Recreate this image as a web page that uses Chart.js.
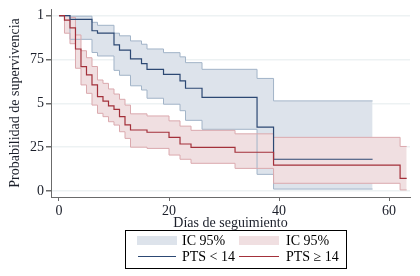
<!DOCTYPE html>
<html>
<head>
<meta charset="utf-8">
<script src="https://cdn.jsdelivr.net/npm/chart.js@4"></script>
<style>
  html, body { margin: 0; padding: 0; background: #fff; }
  #wrap { width: 420px; height: 276px; position: relative; }
</style>
</head>
<body>
<div id="wrap"><canvas id="km"></canvas></div>
<script>
// axis ticks
const xTicks = [0, 20, 40, 60]
const yTicks = [0, 0.25, 0.5, 0.75, 1]
const yTickLabels = ['0', '25', '5', '75', '1']

// PTS < 14 (blue)
const lowDays  = [0, 2, 6, 7, 10, 11, 13, 15, 16, 19, 22, 23, 26, 36, 39, 57]
const lowSurv  = [1, 0.979, 0.914, 0.90, 0.833, 0.804, 0.753, 0.726, 0.694, 0.665, 0.628, 0.586, 0.534, 0.364, 0.181, 0.181]
const lowUpper = [1, 0.997, 0.962, 0.945, 0.90, 0.885, 0.856, 0.837, 0.81, 0.789, 0.765, 0.732, 0.694, 0.642, 0.514, 0.514]
const lowLower = [1, 0.865, 0.79, 0.77, 0.688, 0.66, 0.60, 0.576, 0.529, 0.495, 0.458, 0.403, 0.352, 0.095, 0.011, 0.011]

// PTS >= 14 (red)
const highDays  = [0, 1, 2, 3, 4, 5, 6, 7, 8, 9, 10, 11, 12, 13, 16, 20, 22, 24, 32, 39, 62, 63.2]
const highSurv  = [1, 0.975, 0.93, 0.81, 0.709, 0.662, 0.605, 0.538, 0.513, 0.485, 0.466, 0.424, 0.377, 0.348, 0.335, 0.306, 0.268, 0.249, 0.221, 0.148, 0.072, 0.072]
const highUpper = [1, 1, 0.99, 0.89, 0.80, 0.76, 0.71, 0.633, 0.614, 0.582, 0.553, 0.523, 0.49, 0.44, 0.428, 0.40, 0.37, 0.346, 0.326, 0.306, 0.254, 0.254]
const highLower = [1, 0.90, 0.84, 0.70, 0.605, 0.557, 0.49, 0.443, 0.424, 0.395, 0.376, 0.338, 0.30, 0.25, 0.243, 0.205, 0.181, 0.158, 0.129, 0.044, 0.006, 0.006]

const serif = "'Liberation Serif', 'Times New Roman', serif"
const txt = '#1b1f2a'
const blueLine = '#2c4873'
const redLine = '#a3303a'
const blueBand = '#dde3eb'
const blueEdge = '#a2b4c8'
const redBand = '#f0dfe1'
const redEdge = '#dba9ae'

const pts = (xs, ys) => xs.map((x, i) => ({ x: x, y: ys[i] }))

const legendBox = {
  id: 'legendBox',
  afterDraw (chart) {
    const ctx = chart.ctx
    ctx.save()
    ctx.strokeStyle = '#000'
    ctx.lineWidth = 1
    ctx.strokeRect(125.5, 230.5, 221, 38)

    ctx.fillStyle = blueBand
    ctx.fillRect(137, 236, 40, 9)
    ctx.fillStyle = redBand
    ctx.fillRect(239, 236, 40, 9)

    ctx.lineWidth = 1.2
    ctx.strokeStyle = blueLine
    ctx.beginPath(); ctx.moveTo(138, 256.5); ctx.lineTo(176, 256.5); ctx.stroke()
    ctx.strokeStyle = redLine
    ctx.beginPath(); ctx.moveTo(239, 256.5); ctx.lineTo(279, 256.5); ctx.stroke()

    ctx.fillStyle = '#000'
    ctx.font = '14px ' + serif
    ctx.textBaseline = 'middle'
    ctx.textAlign = 'left'
    ctx.fillText('IC 95%', 182, 241)
    ctx.fillText('IC 95%', 286, 241)
    ctx.fillText('PTS < 14', 182, 257)
    ctx.fillText('PTS \u2265 14', 286, 257)
    ctx.restore()
  }
}

const ctx = document.getElementById('km').getContext('2d')
new Chart(ctx, {
  type: 'line',
  data: {
    datasets: [
      { label: 'PTS \u2265 14', data: pts(highDays, highSurv), borderColor: redLine, borderWidth: 1.2, fill: false },
      { label: 'PTS < 14', data: pts(lowDays, lowSurv), borderColor: blueLine, borderWidth: 1.2, fill: false },
      { label: 'IC 95% alto', data: pts(highDays, highUpper), borderColor: redEdge, borderWidth: 1, backgroundColor: redBand, fill: '+1' },
      { label: 'IC 95% alto inf', data: pts(highDays, highLower), borderColor: redEdge, borderWidth: 1, fill: false },
      { label: 'IC 95% bajo', data: pts(lowDays, lowUpper), borderColor: blueEdge, borderWidth: 1, backgroundColor: blueBand, fill: '+1' },
      { label: 'IC 95% bajo inf', data: pts(lowDays, lowLower), borderColor: blueEdge, borderWidth: 1, fill: false }
    ]
  },
  options: {
    responsive: true,
    maintainAspectRatio: false,
    devicePixelRatio: 1,
    animation: false,
    datasets: {
      line: { stepped: true, pointRadius: 0, pointHoverRadius: 0, tension: 0 }
    },
    layout: { padding: { top: 9, right: 10, bottom: 46, left: 0 } },
    plugins: {
      legend: { display: false },
      tooltip: { enabled: false },
      filler: { drawTime: 'beforeDatasetsDraw' }
    },
    scales: {
      x: {
        type: 'linear',
        min: -1.45,
        max: 63.8,
        afterBuildTicks: (s) => { s.ticks = xTicks.map((v) => ({ value: v })) },
        afterFit: (s) => { s.height = 33 },
        ticks: { color: txt, font: { family: serif, size: 14, lineHeight: 1 }, padding: 3, maxRotation: 0 },
        grid: { drawOnChartArea: false, tickLength: 4, tickColor: '#6b6b6b' },
        border: { color: '#6b6b6b', width: 1 },
        title: { display: true, text: 'Días de seguimiento', color: txt, font: { family: serif, size: 14 }, padding: { top: 0, bottom: -2 } }
      },
      y: {
        type: 'linear',
        min: -0.0342,
        max: 1.038,
        afterBuildTicks: (s) => { s.ticks = yTicks.map((v) => ({ value: v })) },
        afterFit: (s) => { s.width = 51 },
        ticks: {
          color: txt,
          font: { family: serif, size: 14, lineHeight: 1 },
          padding: 2,
          callback: (v, i) => yTickLabels[i]
        },
        grid: { color: '#edf2f3', lineWidth: 1.5, tickLength: 5, tickColor: '#6b6b6b' },
        border: { color: '#6b6b6b', width: 1 },
        title: { display: true, text: 'Probabilidad de supervivencia', color: txt, font: { family: serif, size: 14 }, padding: { top: 7, bottom: 0 } }
      }
    }
  },
  plugins: [legendBox]
})
</script>
</body>
</html>
